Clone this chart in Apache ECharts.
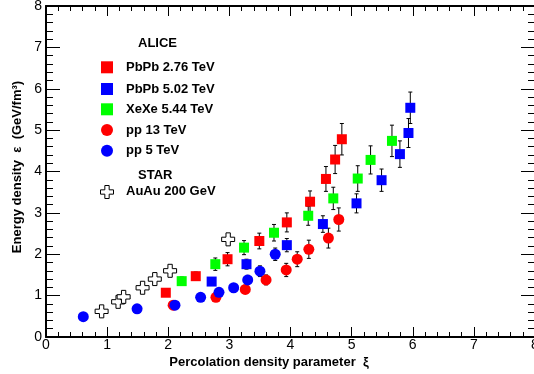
<!DOCTYPE html>
<html>
<head>
<meta charset="utf-8">
<script src="https://cdn.jsdelivr.net/npm/echarts@6/dist/echarts.min.js"></script>
<style>html,body{margin:0;padding:0;background:#fff}#c{width:534px;height:374px}</style>
</head>
<body>
<div id="c"></div>
<script>
// ---- Data ----
var pbpb276X = [1.96, 2.45, 2.97, 3.49, 3.94, 4.32, 4.58, 4.73, 4.84];
var pbpb276Y = [1.07, 1.47, 1.88, 2.32, 2.77, 3.27, 3.82, 4.29, 4.78];
var pbpb276E = [0.08, 0.10, 0.16, 0.19, 0.23, 0.26, 0.30, 0.34, 0.38];

var pbpb502X = [2.71, 3.28, 3.94, 4.53, 5.08, 5.49, 5.79, 5.93, 5.96];
var pbpb502Y = [1.34, 1.76, 2.22, 2.73, 3.23, 3.79, 4.42, 4.93, 5.54];
var pbpb502E = [0.09, 0.12, 0.16, 0.20, 0.23, 0.27, 0.32, 0.35, 0.38];

var xexeX = [2.22, 2.77, 3.24, 3.73, 4.29, 4.70, 5.10, 5.31, 5.66];
var xexeY = [1.35, 1.76, 2.16, 2.52, 2.93, 3.35, 3.83, 4.28, 4.74];
var xexeE = [0.10, 0.15, 0.17, 0.20, 0.23, 0.27, 0.31, 0.34, 0.38];

var pp13X = [2.08, 2.78, 3.26, 3.60, 3.93, 4.11, 4.30, 4.62, 4.79];
var pp13Y = [0.77, 0.96, 1.15, 1.38, 1.62, 1.88, 2.12, 2.39, 2.84];
var pp13E = [0.06, 0.08, 0.10, 0.12, 0.16, 0.18, 0.22, 0.24, 0.28];

var pp5X = [0.61, 1.49, 2.11, 2.53, 2.83, 3.07, 3.30, 3.50, 3.75];
var pp5Y = [0.49, 0.68, 0.77, 0.96, 1.08, 1.19, 1.38, 1.59, 2.00];
var pp5E = [0.04, 0.05, 0.06, 0.08, 0.09, 0.10, 0.11, 0.13, 0.15];

var auauX = [0.91, 1.18, 1.27, 1.58, 1.78, 2.03, 2.98];
var auauY = [0.62, 0.85, 0.97, 1.19, 1.40, 1.60, 2.36];

var legendNames = ['PbPb 2.76 TeV', 'PbPb 5.02 TeV', 'XeXe 5.44 TeV', 'pp 13 TeV', 'pp 5 TeV'];
var starName = 'AuAu 200 GeV';
var xTitle = 'Percolation density parameter  \u03BE';
var yTitle = 'Energy density  \u03B5  (GeV/fm\u00B3)';

// ---- Build ----
function pts(xs, ys) { return xs.map(function (x, i) { return [x, ys[i]]; }); }
function errPts(xs, ys, es) { return xs.map(function (x, i) { return [x, ys[i], es[i]]; }); }

var crossPath = 'path://M4,0 L8,0 L8,4 L12,4 L12,8 L8,8 L8,12 L4,12 L4,8 L0,8 L0,4 L4,4 Z';
var FONT = 'Liberation Sans, Arial, sans-serif';

function errSeries(data) {
  return {
    type: 'custom', z: 1, silent: true,
    data: data,
    encode: { x: 0, y: 1 },
    renderItem: function (params, api) {
      var x = api.value(0), y = api.value(1), e = api.value(2);
      var t = api.coord([x, y + e]);
      var b = api.coord([x, y - e]);
      var w = 2;
      var st = { stroke: '#000', lineWidth: 1 };
      return {
        type: 'group', children: [
          { type: 'line', shape: { x1: t[0], y1: t[1], x2: b[0], y2: b[1] }, style: st },
          { type: 'line', shape: { x1: t[0] - w, y1: t[1], x2: t[0] + w, y2: t[1] }, style: st },
          { type: 'line', shape: { x1: b[0] - w, y1: b[1], x2: b[0] + w, y2: b[1] }, style: st }
        ]
      };
    }
  };
}

function scat(name, data, symbol, color, size) {
  return {
    name: name, type: 'scatter', z: 3, data: data, symbol: symbol, symbolSize: size,
    itemStyle: { color: color, opacity: 1 }, emphasis: { disabled: true }, silent: true
  };
}

function axisCommon(major, minor, showLabel) {
  return {
    type: 'value', min: 0, max: 8, interval: 1,
    axisLine: { show: true, onZero: false, lineStyle: { color: '#000', width: 2 } },
    axisTick: { show: true, inside: true, length: major, lineStyle: { color: '#000', width: 1 } },
    minorTick: { show: true, splitNumber: 5, length: minor, lineStyle: { color: '#000', width: 1 } },
    splitLine: { show: false }, minorSplitLine: { show: false },
    axisLabel: { show: showLabel, color: '#000', fontFamily: FONT, fontSize: 14 }
  };
}

var xBottom = axisCommon(10, 5, true); xBottom.position = 'bottom'; xBottom.axisLabel.margin = 1;
var xTop = axisCommon(10, 5, false); xTop.position = 'top';
var yLeft = axisCommon(14, 7, true); yLeft.position = 'left'; yLeft.axisLabel.margin = 4;
var yRight = axisCommon(14, 7, false); yRight.position = 'right';

var legendYs = [67.3, 89, 109.3, 130, 150.7];
var legendColors = ['#ff0000', '#0000ff', '#00ff00', '#ff0000', '#0000ff'];
var graphics = [];
var textStyleBold = { fontFamily: FONT, fontWeight: 'bold', fontSize: 13, fill: '#000' };
function txt(x, y, s, extra) {
  return { type: 'text', x: x, y: y, z: 10, style: Object.assign({ text: s, verticalAlign: 'middle' }, textStyleBold, extra || {}) };
}
graphics.push(txt(138, 43, 'ALICE'));
legendNames.forEach(function (n, i) {
  var y = legendYs[i];
  if (i < 3) {
    graphics.push({ type: 'rect', z: 10, shape: { x: 101, y: y - 6, width: 12, height: 12 }, style: { fill: legendColors[i] } });
  } else {
    graphics.push({ type: 'circle', z: 10, shape: { cx: 107, cy: y, r: 6 }, style: { fill: legendColors[i] } });
  }
  graphics.push(txt(126, y, n));
});
graphics.push(txt(138, 175, 'STAR'));
var cx0 = 100.5, cy0 = 185.5, u = 13 / 12;
var crossPts = [[4,0],[8,0],[8,4],[12,4],[12,8],[8,8],[8,12],[4,12],[4,8],[0,8],[0,4],[4,4]].map(function (p) { return [cx0 + p[0] * u, cy0 + p[1] * u]; });
graphics.push({ type: 'polygon', z: 10, shape: { points: crossPts }, style: { fill: '#fff', stroke: '#000', lineWidth: 1 } });
graphics.push(txt(126, 191.7, starName));
// axis titles
graphics.push(txt(269, 362, xTitle, { align: 'center' }));
graphics.push({ type: 'text', x: 17, y: 167, z: 10, rotation: Math.PI / 2, style: Object.assign({ text: yTitle, align: 'center', verticalAlign: 'middle' }, textStyleBold) });

var option = {
  animation: false,
  backgroundColor: '#fff',
  grid: { left: 46, top: 6, width: 489, height: 331, outerBoundsMode: 'none', containLabel: false },
  xAxis: [xBottom, xTop],
  yAxis: [yLeft, yRight],
  graphic: { elements: graphics },
  series: [
    errSeries(errPts(pbpb276X, pbpb276Y, pbpb276E)),
    errSeries(errPts(pbpb502X, pbpb502Y, pbpb502E)),
    errSeries(errPts(xexeX, xexeY, xexeE)),
    errSeries(errPts(pp13X, pp13Y, pp13E)),
    errSeries(errPts(pp5X, pp5Y, pp5E)),
    scat(starName, pts(auauX, auauY), crossPath, '#fff', 13),
    scat(legendNames[0], pts(pbpb276X, pbpb276Y), 'rect', '#ff0000', 10),
    scat(legendNames[2], pts(xexeX, xexeY), 'rect', '#00ff00', 10),
    scat(legendNames[1], pts(pbpb502X, pbpb502Y), 'rect', '#0000ff', 10),
    scat(legendNames[3], pts(pp13X, pp13Y), 'circle', '#ff0000', 11),
    scat(legendNames[4], pts(pp5X, pp5Y), 'circle', '#0000ff', 11)
  ]
};
option.series[5].itemStyle = { color: '#fff', borderColor: '#000', borderWidth: 1, opacity: 1 };

var chart = echarts.init(document.getElementById('c'), null, { renderer: 'canvas' });
chart.setOption(option);
</script>
</body>
</html>
